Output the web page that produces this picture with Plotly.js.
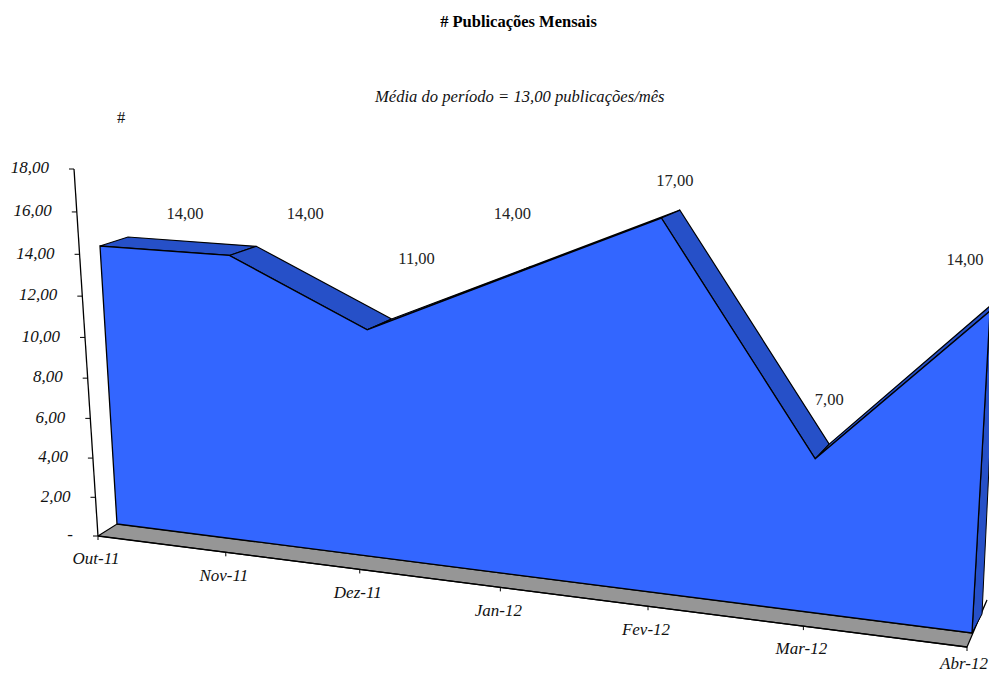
<!DOCTYPE html>
<html lang="pt">
<head>
<meta charset="utf-8">
<title># Publicações Mensais</title>
<script src="https://cdn.plot.ly/plotly-3.0.1.min.js"></script>
<style>html,body{margin:0;padding:0;background:#fff}#chart{width:989px;height:675px}</style>
</head>
<body>
<div id="chart"></div>
<script>
// Monthly publication counts
const months = ['Out-11', 'Nov-11', 'Dez-11', 'Jan-12', 'Fev-12', 'Mar-12', 'Abr-12'];
const publications = [14, 14, 11, 14, 17, 7, 14];
const valueTicks = [0, 2, 4, 6, 8, 10, 12, 14, 16, 18];
const valueTickLabels = ['-', '2,00', '4,00', '6,00', '8,00', '10,00', '12,00', '14,00', '16,00', '18,00'];

const FACE = '#3366FF', BAND = '#2650C8', FLOOR = '#969696', INK = '#000000';
const SERIF = '"Liberation Serif", "Times New Roman", serif';
const lastMonth = months.length - 1;

// Perspective map of a plane: corners are [u0 v0], [u1 v0], [u1 vRef], [u0 vRef] in page pixels
function makePlane(vRef, c) {
  const [p0, p1, p2, p3] = c;
  const dx1 = p1[0] - p2[0], dx2 = p3[0] - p2[0], sx = p0[0] - p1[0] + p2[0] - p3[0];
  const dy1 = p1[1] - p2[1], dy2 = p3[1] - p2[1], sy = p0[1] - p1[1] + p2[1] - p3[1];
  const den = dx1 * dy2 - dx2 * dy1;
  const g = (sx * dy2 - dx2 * sy) / den, h = (dx1 * sy - sx * dy1) / den;
  const a = p1[0] - p0[0] + g * p1[0], b = p3[0] - p0[0] + h * p3[0];
  const d = p1[1] - p0[1] + g * p1[1], e = p3[1] - p0[1] + h * p3[1];
  return (u, v) => {
    const s = u / lastMonth, t = v / vRef, w = g * s + h * t + 1;
    return [(a * s + b * t + p0[0]) / w, (d * s + e * t + p0[1]) / w];
  };
}

// Three depths of the 3-D area: the axis plane, the front of the area and its rear
const axisPlane = makePlane(18, [[98, 536], [967, 647], [1000, 225], [74, 169]]);
const frontPlane = makePlane(14, [[117, 524], [972, 633], [990, 311], [100, 246]]);
const rearPlane = makePlane(14, [[140, 512], [982, 614], [997, 300], [128, 237]]);
const floorRear = [987, 600];

function poly(points, fill, width) {
  const closed = points.concat([points[0]]);
  return {
    type: 'scatter', mode: 'lines', hoverinfo: 'skip', showlegend: false,
    x: closed.map(p => p[0]), y: closed.map(p => p[1]),
    fill: 'toself', fillcolor: fill,
    line: { color: INK, width: width, shape: 'linear' }
  };
}
function segment(a, b, width) {
  return {
    type: 'scatter', mode: 'lines', hoverinfo: 'skip', showlegend: false,
    x: [a[0], b[0]], y: [a[1], b[1]], line: { color: INK, width: width }
  };
}
function labels(points, text, position, size, italic, color) {
  return {
    type: 'scatter', mode: 'text', hoverinfo: 'skip', showlegend: false, cliponaxis: false,
    x: points.map(p => p[0]), y: points.map(p => p[1]), text: text, textposition: position,
    textfont: { family: SERIF, size: size, color: color, style: italic ? 'italic' : 'normal' }
  };
}

const traces = [];

// Floor under the area
traces.push(poly([axisPlane(0, 0), axisPlane(lastMonth, 0), floorRear, frontPlane(lastMonth, 0), frontPlane(0, 0)], FLOOR, 1.2));

// Top surface of the area, then its right-hand end wall
for (let i = 0; i < lastMonth; i++) {
  traces.push(poly([
    frontPlane(i, publications[i]), frontPlane(i + 1, publications[i + 1]),
    rearPlane(i + 1, publications[i + 1]), rearPlane(i, publications[i])
  ], BAND, 1.2));
}
traces.push(poly([
  frontPlane(lastMonth, 0), frontPlane(lastMonth, publications[lastMonth]),
  rearPlane(lastMonth, publications[lastMonth]), rearPlane(lastMonth, 0)
], BAND, 1));

// Front face of the area
const facePoints = [frontPlane(0, 0)]
  .concat(publications.map((v, i) => frontPlane(i, v)))
  .concat([frontPlane(lastMonth, 0)]);
traces.push(poly(facePoints, FACE, 1.3));

// Value axis and month axis
traces.push(segment(axisPlane(0, 0), axisPlane(0, 18), 1.3));
traces.push(segment(axisPlane(0, 0), axisPlane(lastMonth, 0), 1.3));
valueTicks.forEach(v => {
  const p = axisPlane(0, v);
  traces.push(segment(p, [p[0] - 5, p[1]], 1));
});
months.forEach((m, i) => {
  const p = axisPlane(i, 0);
  traces.push(segment(p, [p[0], p[1] + 4], 1));
});

// Tick labels; the last month label is held inside the page edges
traces.push(labels(valueTicks.map(v => {
  const p = axisPlane(0, v);
  return [p[0] - 25, p[1]];
}), valueTickLabels, 'middle left', 17, true, '#111'));
traces.push(labels(months.map((m, i) => {
  const p = axisPlane(i, 0);
  return [Math.min(p[0] - 2, 964), Math.min(p[1] + 24, 665)];
}), months, 'middle center', 17, true, '#111'));

// Value labels, placed by their offset from the rear edge of the area
const labelNudge = [[57, -22], [49, -31], [25, -59], [-19, -51], [-5, -28], [0, -43], [-32, -39]];
traces.push(labels(publications.map((v, i) => {
  const p = rearPlane(i, v);
  return [p[0] + labelNudge[i][0], p[1] + labelNudge[i][1]];
}), publications.map(v => v.toFixed(2).replace('.', ',')), 'middle center', 16.5, false, '#222'));

const layout = {
  width: 989, height: 675,
  margin: { l: 0, r: 0, t: 0, b: 0 },
  paper_bgcolor: '#fff', plot_bgcolor: '#fff',
  showlegend: false,
  title: {
    text: '<b># Publicações Mensais</b>',
    font: { family: SERIF, size: 16.5, color: '#000' },
    xref: 'paper', yref: 'paper', x: 518.5 / 989, xanchor: 'center', y: 1 - 21 / 675, yanchor: 'middle'
  },
  xaxis: { range: [0, 989], visible: false, fixedrange: true },
  yaxis: { range: [675, 0], visible: false, fixedrange: true },
  annotations: [
    {
      text: '<i>Média do período = 13,00 publicações/mês</i>', showarrow: false,
      xref: 'paper', yref: 'paper', x: 519 / 989, y: 1 - 96 / 675, xanchor: 'center', yanchor: 'middle',
      font: { family: SERIF, size: 16.6, color: '#111' }
    },
    {
      text: '#', showarrow: false,
      xref: 'paper', yref: 'paper', x: 121 / 989, y: 1 - 118 / 675, xanchor: 'center', yanchor: 'middle',
      font: { family: SERIF, size: 16.5, color: '#111' }
    }
  ]
};

Plotly.newPlot('chart', traces, layout, { displayModeBar: false, responsive: false });
</script>
</body>
</html>
